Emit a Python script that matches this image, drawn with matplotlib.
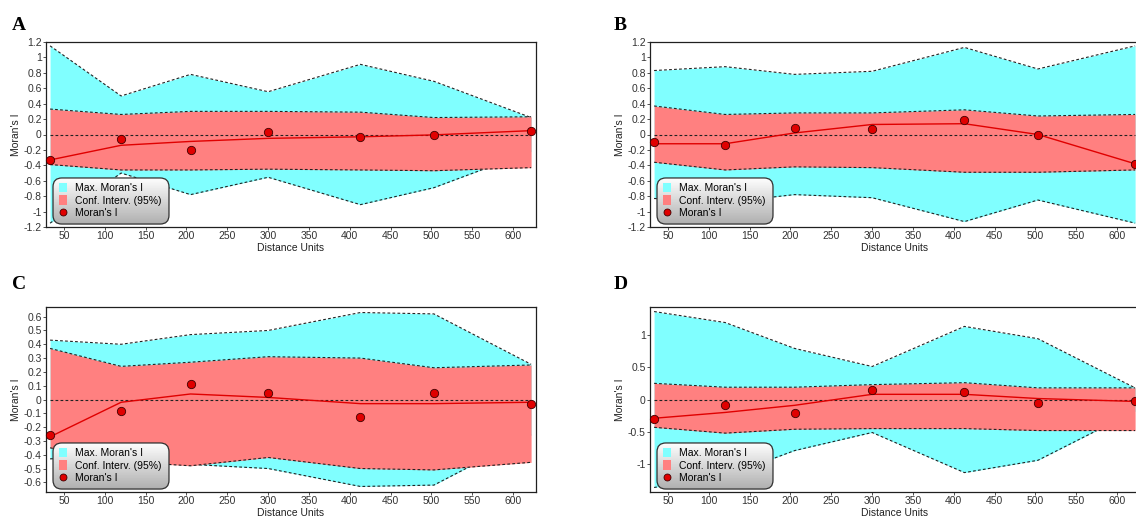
import numpy as np
import matplotlib.pyplot as plt
from matplotlib.patches import FancyBboxPatch, Patch
from matplotlib.lines import Line2D
from matplotlib.ticker import FuncFormatter

plt.rcParams['font.family'] = ['Liberation Sans', 'DejaVu Sans']

# distance classes (same for all panels)
distance = [33, 120, 205, 300, 413, 503, 622]

# Panel A
max_a = [1.15, 0.50, 0.78, 0.555, 0.91, 0.69, 0.22]
ci_hi_a = [0.33, 0.26, 0.30, 0.30, 0.29, 0.22, 0.23]
ci_lo_a = [-0.39, -0.46, -0.46, -0.45, -0.46, -0.47, -0.43]
moran_a = [-0.33, -0.06, -0.20, 0.03, -0.03, -0.01, 0.05]
trend_a = [-0.33, -0.14, -0.09, -0.05, -0.03, -0.005, 0.05]

# Panel B
max_b = [0.83, 0.88, 0.78, 0.82, 1.13, 0.85, 1.15]
ci_hi_b = [0.37, 0.26, 0.28, 0.28, 0.32, 0.24, 0.26]
ci_lo_b = [-0.36, -0.46, -0.42, -0.43, -0.49, -0.49, -0.46]
moran_b = [-0.10, -0.13, 0.09, 0.07, 0.19, 0.0, -0.38]
trend_b = [-0.12, -0.12, 0.02, 0.13, 0.14, 0.0, -0.38]

# Panel C
max_c = [0.43, 0.40, 0.47, 0.50, 0.63, 0.62, 0.255]
ci_hi_c = [0.37, 0.24, 0.27, 0.31, 0.30, 0.23, 0.25]
ci_lo_c = [-0.35, -0.45, -0.48, -0.42, -0.50, -0.51, -0.455]
moran_c = [-0.26, -0.08, 0.11, 0.05, -0.13, 0.045, -0.03]
trend_c = [-0.27, -0.02, 0.04, 0.015, -0.03, -0.03, -0.02]

# Panel D
max_d = [1.36, 1.19, 0.79, 0.51, 1.13, 0.94, 0.18]
ci_hi_d = [0.25, 0.19, 0.19, 0.23, 0.26, 0.18, 0.18]
ci_lo_d = [-0.43, -0.52, -0.46, -0.45, -0.45, -0.48, -0.48]
moran_d = [-0.30, -0.09, -0.21, 0.15, 0.12, -0.05, -0.02]
trend_d = [-0.29, -0.20, -0.09, 0.08, 0.08, 0.015, -0.03]

xticks = [50, 100, 150, 200, 250, 300, 350, 400, 450, 500, 550, 600]
yticks_ab = [-1.2, -1, -0.8, -0.6, -0.4, -0.2, 0, 0.2, 0.4, 0.6, 0.8, 1, 1.2]
yticks_c = [-0.6, -0.5, -0.4, -0.3, -0.2, -0.1, 0, 0.1, 0.2, 0.3, 0.4, 0.5, 0.6]
yticks_d = [-1, -0.5, 0, 0.5, 1]

CYAN = '#80ffff'
PINK = '#ff8080'
RED = '#e00000'
W, H = 1136, 521


def panel(rect, letter, letter_xy, mx, ci_hi, ci_lo, moran, trend, ylim, yticks):
    ax = fig.add_axes(rect)
    x = np.array(distance)
    mx = np.array(mx)
    dash = dict(color='#222222', lw=0.8, ls=(0, (2.5, 2)))
    ax.fill_between(x, -mx, mx, color=CYAN, lw=0, zorder=1)
    ax.plot(x, mx, **dash, zorder=1.5)
    ax.plot(x, -mx, **dash, zorder=1.5)
    ax.fill_between(x, ci_lo, ci_hi, color=PINK, lw=0, zorder=2)
    ax.plot(x, ci_hi, **dash, zorder=2.5)
    ax.plot(x, ci_lo, **dash, zorder=2.5)
    ax.hlines(0, x[0], x[-1], colors='#222222', lw=0.8, linestyles=[(0, (2.5, 2))], zorder=2.6)
    ax.plot(x, trend, color=RED, lw=1.0, zorder=3)
    ax.plot(x, moran, 'o', color=RED, mec='#400000', mew=0.6, ms=6, zorder=4, clip_on=False)

    # legend box with grey gradient
    x0, y0, x1, y1 = 0.0143, 0.016, 0.251, 0.265
    box = FancyBboxPatch((x0, y0), x1 - x0, y1 - y0,
                         boxstyle='round,pad=0,rounding_size=0.018',
                         mutation_aspect=490 / 185, transform=ax.transAxes,
                         facecolor='none', edgecolor='#303030', lw=0.9, zorder=6)
    ax.add_patch(box)
    grad = np.linspace(1, 0, 64).reshape(-1, 1)
    im = ax.imshow(grad, extent=(x0, x1, y0, y1), transform=ax.transAxes,
                   cmap='gray', vmin=-2.2, vmax=1, aspect='auto', zorder=5,
                   interpolation='bilinear')
    im.set_clip_path(box)
    handles = [Patch(facecolor=CYAN, edgecolor='none'),
               Patch(facecolor=PINK, edgecolor='none'),
               Line2D([], [], marker='o', color=RED, mec='#400000', mew=0.6, ms=5, ls='none')]
    leg = ax.legend(handles, ["Max. Moran's I", 'Conf. Interv. (95%)', "Moran's I"],
                    loc='upper left', bbox_to_anchor=(x0 + 0.005, y1 - 0.005),
                    frameon=False, fontsize=7.5, handlelength=0.8, handleheight=1.0,
                    handletextpad=0.7, labelspacing=0.25, borderpad=0.35, borderaxespad=0)
    leg.set_zorder(7)

    ax.set_xlim(28, 628)
    ax.set_ylim(*ylim)
    ax.set_xticks(xticks)
    ax.set_yticks(yticks)
    ax.yaxis.set_major_formatter(FuncFormatter(lambda v, p: '%g' % round(v, 2)))
    ax.tick_params(labelsize=7.5, length=2, width=0.6, pad=1, colors='#333333')
    ax.set_xlabel('Distance Units', fontsize=7.5, labelpad=1, color='#222222')
    ax.set_ylabel("Moran's I", fontsize=7.5, labelpad=2, color='#222222')
    for s in ax.spines.values():
        s.set_linewidth(0.9)
        s.set_color('#202020')
    fig.text(letter_xy[0] / W, 1 - letter_xy[1] / H, letter, fontsize=14,
             fontweight='bold', family=['Liberation Serif', 'DejaVu Serif'], va='baseline')
    return ax


fig = plt.figure(figsize=(W / 100, H / 100), dpi=100)
aw, ah = 490 / W, 185 / H
panel([46 / W, 1 - 227 / H, aw, ah], 'A', (12, 30), max_a, ci_hi_a, ci_lo_a,
      moran_a, trend_a, (-1.2, 1.2), yticks_ab)
panel([650 / W, 1 - 227 / H, aw, ah], 'B', (614, 30), max_b, ci_hi_b, ci_lo_b,
      moran_b, trend_b, (-1.2, 1.2), yticks_ab)
panel([46 / W, 1 - 492 / H, aw, ah], 'C', (12, 289), max_c, ci_hi_c, ci_lo_c,
      moran_c, trend_c, (-0.67, 0.67), yticks_c)
panel([650 / W, 1 - 492 / H, aw, ah], 'D', (614, 289), max_d, ci_hi_d, ci_lo_d,
      moran_d, trend_d, (-1.43, 1.43), yticks_d)

fig.savefig('out.png', dpi=100)
